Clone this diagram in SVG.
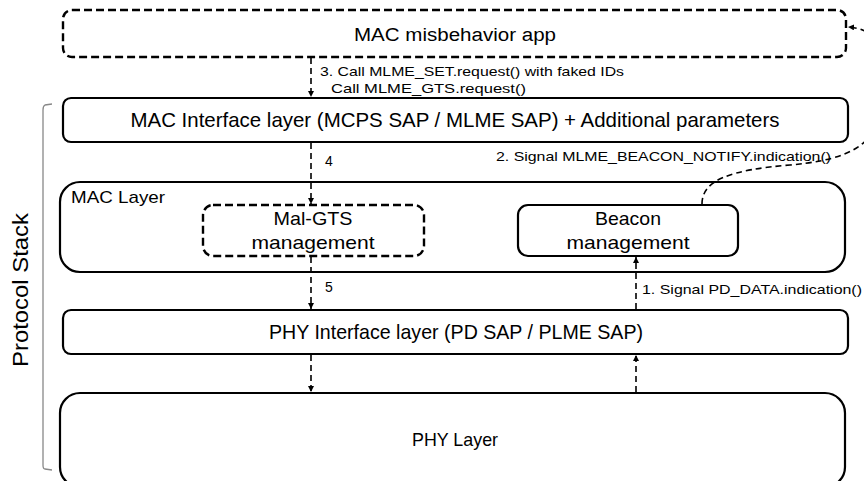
<svg xmlns="http://www.w3.org/2000/svg" width="864" height="481" viewBox="0 0 864 481">
<style>
text{font-family:"Liberation Sans",Arial,sans-serif;fill:#000}
.box{fill:#fff;stroke:#000;stroke-width:2.2}
.dbox{fill:#fff;stroke:#000;stroke-width:2.4;stroke-dasharray:8 4}
.con{fill:none;stroke:#000;stroke-width:1.6;stroke-dasharray:6 4}
.big{font-size:21px}
.mid{font-size:19px}
.sm{font-size:13px}
</style>
<defs>
<marker id="ah" viewBox="0 0 10 10" refX="10" refY="5" markerWidth="6" markerHeight="6" markerUnits="userSpaceOnUse" orient="auto">
<path d="M0,0 L10,5 L0,10 z" fill="#000"/>
</marker>
</defs>
<g id="bracket">
<path d="M52,104 L45,105 Q43,106 43,110 L43,465 Q43,469 45,469 L52,470" fill="none" stroke="#888" stroke-width="1.3"/>
<text transform="translate(28,290) rotate(-90)" text-anchor="middle" font-size="22" textLength="154" lengthAdjust="spacingAndGlyphs">Protocol Stack</text>
</g>
<g id="mac-app">
<rect class="dbox" x="63" y="10" width="783" height="47" rx="9"/>
<text x="455" y="41" text-anchor="middle" font-size="18" textLength="202" lengthAdjust="spacingAndGlyphs">MAC misbehavior app</text>
</g>
<g id="mac-interface">
<rect class="box" x="63" y="98" width="785" height="44" rx="8"/>
<text class="big" x="455" y="127" text-anchor="middle" textLength="649" lengthAdjust="spacingAndGlyphs">MAC Interface layer (MCPS SAP / MLME SAP) + Additional parameters</text>
</g>
<g id="mac-layer">
<rect class="box" x="60" y="182" width="785" height="90" rx="20"/>
<text x="71" y="203" font-size="17" textLength="94" lengthAdjust="spacingAndGlyphs">MAC Layer</text>
</g>
<g id="mal-gts">
<rect class="dbox" x="203" y="205" width="221" height="51" rx="10"/>
<text class="mid" x="313" y="225" text-anchor="middle" textLength="79" lengthAdjust="spacingAndGlyphs">Mal-GTS</text>
<text class="mid" x="313" y="249" text-anchor="middle" textLength="123" lengthAdjust="spacingAndGlyphs">management</text>
</g>
<g id="beacon">
<rect class="box" x="518" y="205" width="220" height="51" rx="10"/>
<text class="mid" x="628" y="225" text-anchor="middle" textLength="66" lengthAdjust="spacingAndGlyphs">Beacon</text>
<text class="mid" x="628" y="249" text-anchor="middle" textLength="123" lengthAdjust="spacingAndGlyphs">management</text>
</g>
<g id="phy-interface">
<rect class="box" x="63" y="310" width="785" height="44" rx="8"/>
<text class="big" x="456" y="339" text-anchor="middle" textLength="374" lengthAdjust="spacingAndGlyphs">PHY Interface layer (PD SAP / PLME SAP)</text>
</g>
<g id="phy-layer">
<rect class="box" x="60" y="393" width="785" height="94" rx="20"/>
<text class="mid" x="455" y="446" text-anchor="middle" textLength="86" lengthAdjust="spacingAndGlyphs">PHY Layer</text>
</g>
<g id="connectors">
<line class="con" x1="311" y1="58" x2="311" y2="97" marker-end="url(#ah)"/>
<line class="con" x1="311" y1="143" x2="311" y2="204" marker-end="url(#ah)"/>
<line class="con" x1="311" y1="257" x2="311" y2="309" marker-end="url(#ah)"/>
<line class="con" x1="311" y1="355" x2="311" y2="392" marker-end="url(#ah)"/>
<line class="con" x1="636" y1="309" x2="636" y2="257" marker-end="url(#ah)"/>
<line class="con" x1="636" y1="392" x2="636" y2="355" marker-end="url(#ah)"/>
<path class="con" d="M702,204 C702,180 730,170 790,165 C835,161 858,152 872,134 C900,100 900,30 848,27" marker-end="url(#ah)"/>
<text class="sm" x="320" y="76" textLength="304" lengthAdjust="spacingAndGlyphs">3. Call MLME_SET.request() with faked IDs</text>
<text class="sm" x="331" y="93" textLength="195" lengthAdjust="spacingAndGlyphs">Call MLME_GTS.request()</text>
<text x="325" y="166" font-size="14">4</text>
<text class="sm" x="496" y="161" textLength="335" lengthAdjust="spacingAndGlyphs">2. Signal MLME_BEACON_NOTIFY.indication()</text>
<text x="325" y="292" font-size="14">5</text>
<text class="sm" x="642" y="294" textLength="220" lengthAdjust="spacingAndGlyphs">1. Signal PD_DATA.indication()</text>
</g>
</svg>
